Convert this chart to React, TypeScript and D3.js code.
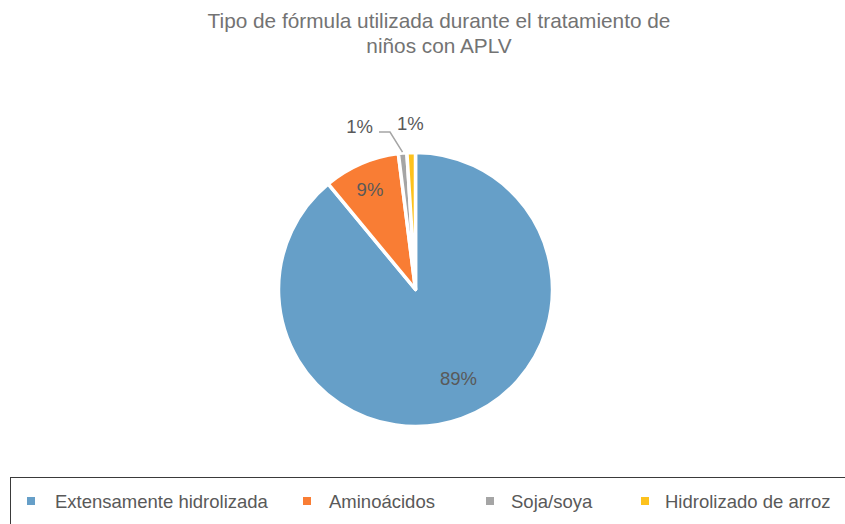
import React from "react";
import * as d3 from "d3";

const categories = ["Extensamente hidrolizada", "Aminoácidos", "Soja/soya", "Hidrolizado de arroz"];
const values = [89, 9, 1, 1];
const labels = ["89%", "9%", "1%", "1%"];
const colors = ["#669fc8", "#f97d34", "#a5a5a5", "#fdc21d"];
const titleLines = ["Tipo de fórmula utilizada durante el tratamiento de", "niños con APLV"];

const W = 845;
const H = 524;
const cx = 415.5;
const cy = 289.5;
const R = 137;
const FONT = "'Liberation Sans', Arial, Helvetica, sans-serif";

export default function App() {
  const pie = d3.pie<number>().sort(null).value((d) => d).startAngle(0).endAngle(2 * Math.PI);
  const arcs = pie(values);
  const arcGen = d3.arc<d3.PieArcDatum<number>>().innerRadius(0).outerRadius(R);
  const polar = (a: number, r: number) => [Math.sin(a) * r, -Math.cos(a) * r];

  const legendMarkerX = [27, 303, 486, 641];
  const legendTextX = [55, 329, 511, 665];

  return (
    <svg width={W} height={H} style={{ position: "absolute", left: 0, top: 0 }} fontFamily={FONT}>
      <rect width={W} height={H} fill="#fff" />
      {titleLines.map((t, i) => (
        <text key={i} x={439} y={28 + i * 25} textAnchor="middle" fontSize={20.8} fill="#737373">
          {t}
        </text>
      ))}
      <g transform={`translate(${cx},${cy})`}>
        {arcs.map((a, i) => (
          <path key={i} d={arcGen(a) || ""} fill={colors[i]} stroke="#fff" strokeWidth={3.5} strokeLinejoin="round" />
        ))}
        {arcs.map((a, i) => {
          const mid = (a.startAngle + a.endAngle) / 2;
          if (i === 0) {
            const [x, y] = polar(mid, R * 0.71);
            return (
              <text key={i} x={x + 10} y={y - 3} textAnchor="middle" dominantBaseline="central" fontSize={18.5} fill="#595959">
                {labels[i]}
              </text>
            );
          }
          if (i === 1) {
            const [x, y] = polar(mid, R * 0.8);
            return (
              <text key={i} x={x - 2} y={y + 1} textAnchor="middle" dominantBaseline="central" fontSize={18.5} fill="#595959">
                {labels[i]}
              </text>
            );
          }
          if (i === 2) {
            const [sx, sy] = polar(mid, R + 1);
            const ex = -25.5;
            const ey = -157.5;
            return (
              <g key={i}>
                <polyline
                  points={`${sx},${sy} ${ex},${ey} ${ex - 11},${ey}`}
                  fill="none"
                  stroke="#a5a5a5"
                  strokeWidth={1.5}
                />
                <text x={ex - 17} y={ey - 6} textAnchor="end" dominantBaseline="central" fontSize={18.5} fill="#595959">
                  {labels[i]}
                </text>
              </g>
            );
          }
          const [x, y] = polar(mid, R + 29);
          return (
            <text key={i} x={x} y={y} textAnchor="middle" dominantBaseline="central" fontSize={18.5} fill="#595959">
              {labels[i]}
            </text>
          );
        })}
      </g>
      <rect x={10.5} y={477.5} width={900} height={100} fill="none" stroke="#3a3a3a" strokeWidth={1} />
      {categories.map((c, i) => (
        <g key={i}>
          <rect x={legendMarkerX[i]} y={497} width={8} height={8} fill={colors[i]} />
          <text x={legendTextX[i]} y={501.5} dominantBaseline="central" fontSize={18.5} fill="#595959">
            {c}
          </text>
        </g>
      ))}
    </svg>
  );
}
